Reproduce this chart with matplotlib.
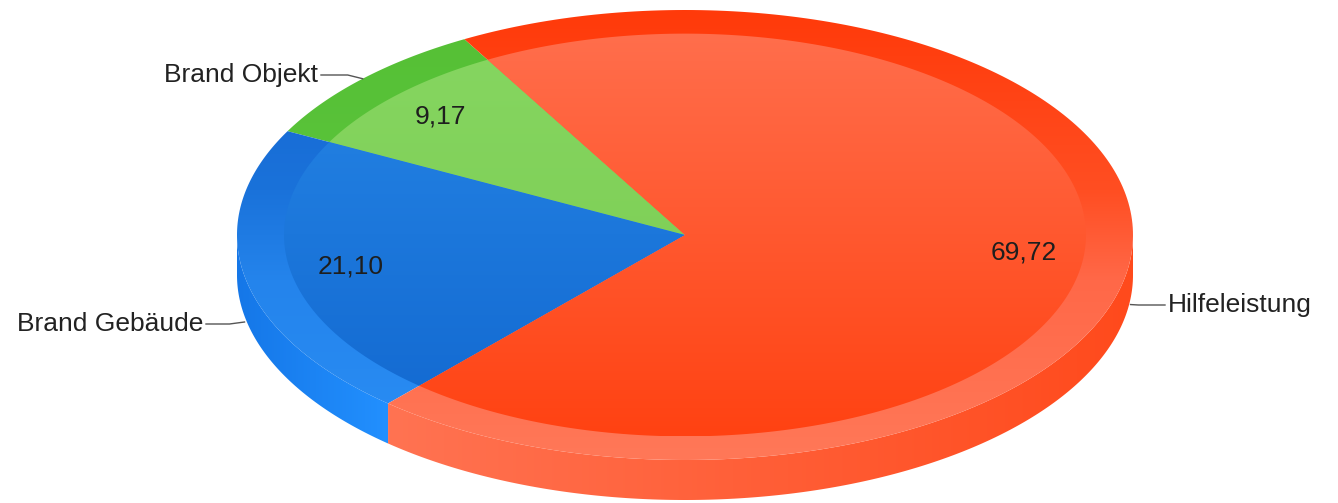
import numpy as np
import matplotlib
matplotlib.use("Agg")
import matplotlib.pyplot as plt
from matplotlib.patches import Polygon
from matplotlib.colors import to_rgb

# Einsatzarten (Anteile in Prozent)
categories = ["Brand Objekt", "Brand Gebäude", "Hilfeleistung"]
values = [9.17, 21.10, 69.72]

W, H = 1338, 503
cx, cy = 685, 235          # centre of the top face (pixels)
rx, ry = 448, 225          # radii of the top ellipse
depth = 40                 # thickness of the disc
inner = 0.895              # scale of the inner (bevelled) face
start_angle = 119.5

# colour stops per slice: top rim, inner face, side wall
styles = {
    "Brand Objekt": dict(rim=[(0, "#55C035"), (1, "#62C843")],
                         face=[(0, "#86D661"), (1, "#7ACB50")],
                         side=[(0, "#5CC43A"), (1, "#6ACD4A")]),
    "Brand Gebäude": dict(rim=[(0, "#1565D0"), (0.4, "#1A72DA"), (0.6, "#2484EC"), (1, "#2A8EF5")],
                          face=[(0, "#2686E6"), (1, "#1268D0")],
                          side=[(0, "#1577E8"), (1, "#2290FF")]),
    "Hilfeleistung": dict(rim=[(0, "#FF3A0A"), (0.4, "#FF4E22"), (0.6, "#FF6848"), (1, "#FF7858")],
                          face=[(0, "#FF6E4C"), (1, "#FF4212")],
                          side=[(0, "#FF7352"), (1, "#FF4A1C")]),
}

fig = plt.figure(figsize=(W / 100, H / 100), dpi=100)
ax = fig.add_axes([0, 0, 1, 1])
ax.set_xlim(0, W)
ax.set_ylim(H, 0)
ax.axis("off")


def arc(t0, t1, s=1.0, dy=0, n=240):
    t = np.radians(np.linspace(t0, t1, n))
    return np.column_stack([cx + s * rx * np.cos(t), cy - s * ry * np.sin(t) + dy])


def gradient_fill(xy, stops, axis, lo, hi, z):
    patch = Polygon(xy, closed=True, facecolor="none", edgecolor="none")
    ax.add_patch(patch)
    pos = np.linspace(0, 1, 256)
    fr = [s[0] for s in stops]
    rgb = np.array([to_rgb(s[1]) for s in stops])
    cols = np.stack([np.interp(pos, fr, rgb[:, k]) for k in range(3)], axis=-1)
    if axis == "y":
        img = cols[:, None, :]
        ext = (0, W, hi, lo)
    else:
        img = cols[None, :, :]
        ext = (lo, hi, H, 0)
    im = ax.imshow(img, extent=ext, aspect="auto", interpolation="bilinear", zorder=z)
    im.set_clip_path(patch)


total = sum(values)
angles = []
t = start_angle
for v in values:
    span = v / total * 360
    angles.append((t, t + span))
    t += span

# side walls (only the front half of the disc is visible)
for name, (t0, t1) in zip(categories, angles):
    for k in (0, 1):
        a0 = max(t0, 180 + 360 * k)
        a1 = min(t1, 360 + 360 * k)
        if a1 <= a0:
            continue
        top = arc(a0, a1)
        bottom = arc(a1, a0, dy=depth)
        xy = np.vstack([top, bottom])
        gradient_fill(xy, styles[name]["side"], "x", xy[:, 0].min(), xy[:, 0].max(), 1)

# top face: outer rim then inner face
for name, (t0, t1) in zip(categories, angles):
    outer = np.vstack([[cx, cy], arc(t0, t1)])
    gradient_fill(outer, styles[name]["rim"], "y", cy - ry, cy + ry, 2)
    face = np.vstack([[cx, cy], arc(t0, t1, s=inner)])
    gradient_fill(face, styles[name]["face"], "y", cy - inner * ry, cy + inner * ry, 3)

# value labels
for v, (t0, t1) in zip(values, angles):
    m = np.radians((t0 + t1) / 2)
    x = cx + 0.76 * rx * np.cos(m)
    y = cy - 0.76 * ry * np.sin(m)
    ax.text(x, y, f"{v:.2f}".replace(".", ","), ha="center", va="center",
            fontsize=19, family="Liberation Sans", color="#1e1e1e", zorder=5)

# category labels with connector lines
label_pos = {"Brand Objekt": (318, 75), "Brand Gebäude": (203, 324), "Hilfeleistung": (1168, 305)}
for name, (t0, t1) in zip(categories, angles):
    m = np.radians((t0 + t1) / 2)
    axp = cx + rx * np.cos(m)
    ayp = cy - ry * np.sin(m)
    if np.sin(m) < 0:
        ayp += depth * 1.15
    tx, ty = label_pos[name]
    right = np.cos(m) > 0
    if right:
        xs = [axp, axp + 8, tx - 3]
        ha = "left"
    else:
        xs = [axp, axp - 15, tx + 3]
        ha = "right"
    ax.plot(xs, [ayp, ty, ty], color="#555555", lw=1, zorder=4)
    ax.text(tx, ty, name, ha=ha, va="center", fontsize=19,
            family="Liberation Sans", color="#222222", zorder=5)

fig.savefig("out.png", dpi=100, facecolor="white")
